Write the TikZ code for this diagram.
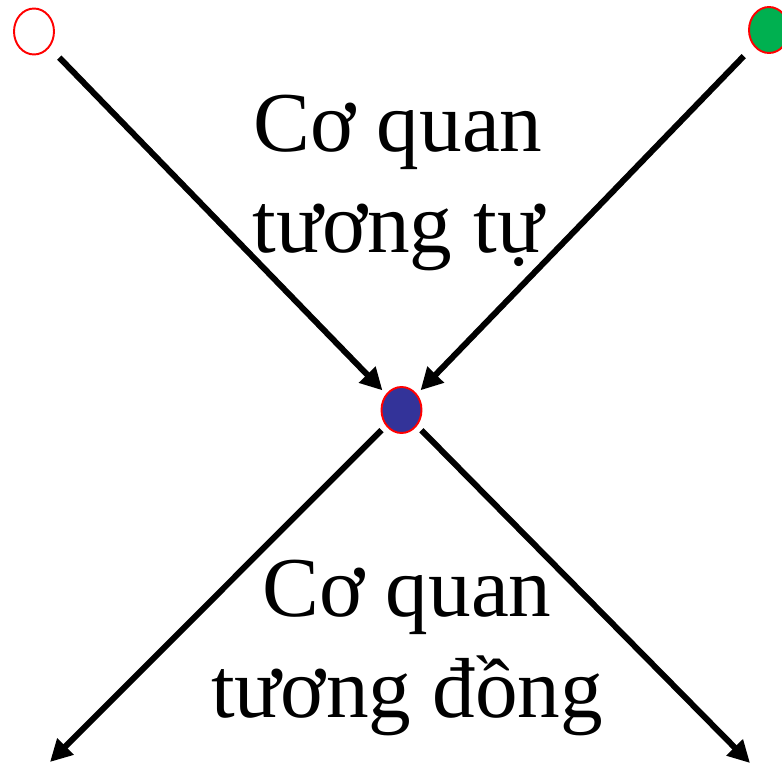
\documentclass[tikz,border=0pt]{standalone}
\usepackage{fontspec}
\setmainfont{Liberation Serif}
\usetikzlibrary{shapes.geometric, arrows.meta}
\definecolor{dotgreen}{RGB}{0,176,80}
\definecolor{dotblue}{RGB}{51,51,153}

\begin{document}
\begin{tikzpicture}[x=0.02cm, y=-0.02cm, -{Triangle[length=0.44cm, width=0.44cm]},
                    line width=0.12cm,
                    dot/.style={ellipse, draw=red, line width=1.1pt, minimum width=0.8cm, minimum height=0.92cm, inner sep=0pt},
                    label text/.style={inner sep=0pt, align=center, font=\fontsize{48.5}{58}\selectfont}]

    \useasboundingbox (0,0) rectangle (782,764);

    \node[dot, fill=white]    (left)   at (34, 31.5) {};
    \node[dot, fill=dotgreen] (right)  at (769, 30)  {};
    \node[dot, fill=dotblue]  (centre) at (401.5, 410) {};

    \coordinate (lowleft)  at (50, 762);
    \coordinate (lowright) at (750, 763);

    \node[label text] (analog) at (398, 183)   {Cơ quan\\tương tự};
    \node[label text] (homolog) at (407, 648) {Cơ quan\\tương đồng};

    % vào tâm
    \draw[shorten <=0.28cm, shorten >=0.1cm] (left)  -- (centre);
    \draw[shorten <=0.28cm, shorten >=0.1cm] (right) -- (centre);

    % ra ngoài
    \draw[shorten <=0.12cm] (centre) -- (lowleft);
    \draw[shorten <=0.12cm] (centre) -- (lowright);

\end{tikzpicture}
\end{document}
